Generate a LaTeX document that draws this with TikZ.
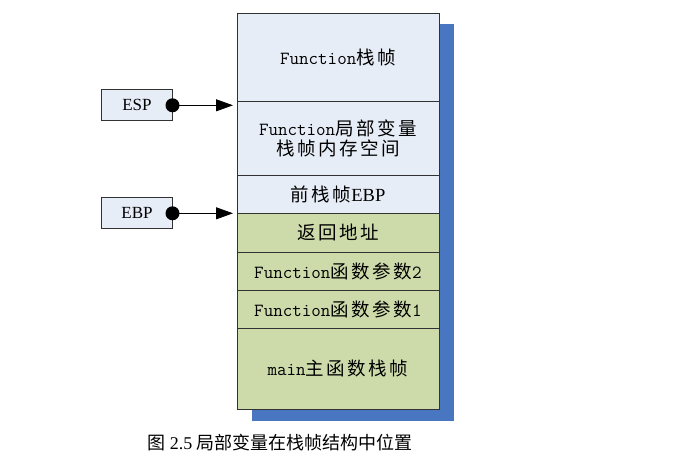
\documentclass[tikz,border=0pt]{standalone}
\usepackage{fontspec}
\setmainfont{Liberation Serif}
\newfontfamily\cjk[LetterSpace=14]{Noto Sans CJK SC}
\newfontfamily\capfont{Noto Sans CJK SC}
\newcommand\zh[1]{{\cjk #1}}
\usetikzlibrary{arrows.meta,positioning,backgrounds,calc}
\definecolor{cellblue}{RGB}{231, 237, 247}
\definecolor{cellgreen}{RGB}{205, 219, 170}
\definecolor{shadowblue}{RGB}{72, 118, 192}
\definecolor{linegray}{RGB}{50, 50, 50}

\begin{document}
\begin{tikzpicture}[
    x=1pt, y=-1pt,
    cell/.style={draw=linegray, line width=0.8pt, fill=cellblue, minimum width=202pt, inner sep=0pt, outer sep=0pt, align=center, font=\fontsize{18.5}{20}\selectfont\ttfamily},
    greencell/.style={cell, fill=cellgreen},
    regbox/.style={draw=linegray, line width=0.8pt, fill=cellblue, minimum width=71pt, minimum height=31pt, inner sep=0pt, outer sep=0pt, font=\fontsize{17}{20}\selectfont},
    arrow/.style={-{Triangle[length=17pt, width=12pt]}, line width=0.8pt, shorten >=4pt}
]
    \useasboundingbox (0,0) rectangle (691,463);

    % Stack cells
    \node[cell, minimum height=88.7pt, anchor=north] (funcframe) at (338,13) {Function\zh{栈帧}};
    \node[cell, minimum height=74pt, below=0pt of funcframe] (localvar) {Function\zh{局部变量}\\\zh{栈帧内存空间}};
    \node[cell, minimum height=37.8pt, below=0pt of localvar] (prevebp) {\zh{前栈帧}\rmfamily EBP};
    \node[greencell, minimum height=38.8pt, below=0pt of prevebp] (retaddr) {\zh{返回地址}};
    \node[greencell, minimum height=37.7pt, below=0pt of retaddr] (argtwo) {Function\zh{函数参数}2};
    \node[greencell, minimum height=38pt, below=0pt of argtwo] (argone) {Function\zh{函数参数}1};
    \node[greencell, minimum height=81.3pt, below=0pt of argone] (mainframe) {main\zh{主函数栈帧}};

    % Shadow
    \begin{scope}[on background layer]
        \fill[shadowblue] ($(funcframe.north west)+(15,11)$) rectangle ($(mainframe.south east)+(15,12)$);
    \end{scope}

    % Registers
    \node[regbox] (esp) at (137,105.3) {ESP};
    \node[regbox] (ebp) at (137,213.3) {EBP};

    % Pointers
    \fill[black] (esp.east) circle (7);
    \fill[black] (ebp.east) circle (7);
    \draw[arrow] (esp.east) -- (esp.east -| localvar.west);
    \draw[arrow] (ebp.east) -- (ebp.east -| retaddr.west);

    % Caption
    \node[font=\capfont\fontsize{18}{21}\selectfont] (caption) at (280,443) {图 {\rmfamily 2.5} 局部变量在栈帧结构中位置};
\end{tikzpicture}
\end{document}
